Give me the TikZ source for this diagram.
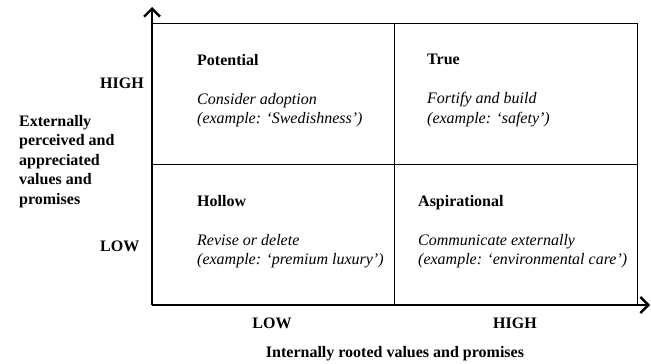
\documentclass[tikz,border=0pt]{standalone}
\usepackage{fontspec}
\setmainfont{Liberation Serif}
\usetikzlibrary{arrows.meta, positioning}

\begin{document}
\begin{tikzpicture}[x=1pt, y=-1pt,
    axis/.style={-{Straight Barb[length=8pt, width=16pt, line width=2.4pt]}, line width=2.8pt},
    grid/.style={line width=1pt},
    quad/.style={anchor=north west, align=left, inner sep=0pt, font=\fontsize{16}{19.5}\selectfont},
    level/.style={anchor=base west, inner sep=0pt, font=\fontsize{16}{19.5}\selectfont\bfseries},
    caption/.style={anchor=base, inner sep=0pt, font=\fontsize{16}{19.5}\selectfont\bfseries}
]
    \useasboundingbox (0,0) rectangle (651,364);

    % Axes and grid corners
    \coordinate (origin) at (152,305);
    \coordinate (ytip) at (152,7);
    \coordinate (xtip) at (650,305);
    \coordinate (tl) at (152,23);
    \coordinate (tm) at (394,23);
    \coordinate (tr) at (637,23);
    \coordinate (ml) at (152,164);
    \coordinate (mr) at (637,164);
    \coordinate (bm) at (394,305);
    \coordinate (br) at (637,305);

    % Grid
    \draw[grid] (tl) -- (tr) -- (br);
    \draw[grid] (tm) -- (bm);
    \draw[grid] (ml) -- (mr);

    % Axes
    \draw[axis] (origin) -- (ytip);
    \draw[axis] (origin) -- (xtip);

    % Quadrants
    \node[quad] (potential) at (197,54) {\textbf{Potential}\\[19.5pt]\textit{Consider adoption}\\\textit{(example: ‘Swedishness’)}};
    \node[quad] (true) at (427,54) {\textbf{True}\\[19.5pt]\textit{Fortify and build}\\\textit{(example: ‘safety’)}};
    \node[quad] (hollow) at (197,195) {\textbf{Hollow}\\[19.5pt]\textit{Revise or delete}\\\textit{(example: ‘premium luxury’)}};
    \node[quad] (aspirational) at (418,195) {\textbf{Aspirational}\\[19.5pt]\textit{Communicate externally}\\\textit{(example: ‘environmental care’)}};

    % Vertical axis labels
    \node[level] (yhigh) at (100,88) {HIGH};
    \node[level] (ylow) at (100,251) {LOW};
    \node[quad, font=\fontsize{16}{19.5}\selectfont\bfseries] (ytitle) at (19,115) {Externally\\perceived and\\appreciated\\values and\\promises};

    % Horizontal axis labels
    \node[caption] (xlow) at (272,328) {LOW};
    \node[caption] (xhigh) at (515,328) {HIGH};
    \node[caption] (xtitle) at (395,357) {Internally rooted values and promises};
\end{tikzpicture}
\end{document}
